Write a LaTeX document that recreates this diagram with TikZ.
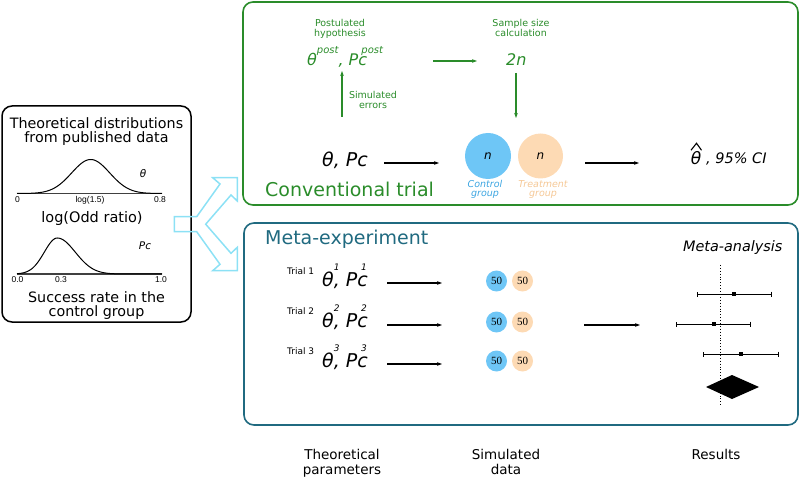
\documentclass[tikz,border=0pt]{standalone}
\usepackage{fontspec}
\setmainfont{DejaVu Sans}
\newfontfamily\serifnum{Liberation Serif}
\newfontfamily\ticksf{Liberation Sans}
\usetikzlibrary{arrows.meta}
\definecolor{grn}{RGB}{42,140,42}
\definecolor{tealc}{RGB}{32,106,128}
\definecolor{ctrlfill}{RGB}{110,198,246}
\definecolor{trtfill}{RGB}{253,218,180}
\definecolor{ctrltext}{RGB}{60,165,225}
\definecolor{trttext}{RGB}{245,200,150}
\definecolor{cyanarr}{RGB}{140,225,245}
\newcommand\setfs[1]{\fontsize{#1}{#1}\selectfont}
% raised superscript: #1 raise, #2 size, #3 text
\newcommand\rsup[3]{\raisebox{#1}{\setfs{#2}#3}}
\begin{document}
\begin{tikzpicture}[x=1pt,y=-1pt,
  lbl/.style={inner sep=0pt, anchor=base},
  lblw/.style={inner sep=0pt, anchor=base west},
  arr/.style={-{Stealth[length=5pt,width=3.6pt]}, line width=1.1pt},
  garr/.style={arr, draw=grn},
  panel/.style={rectangle, rounded corners=10pt, line width=1.6pt, inner sep=0pt},
  bigc/.style={circle, inner sep=0pt, minimum size=45pt, font=\itshape\setfs{12}},
  smc/.style={circle, inner sep=0pt, minimum size=21pt, font=\serifnum\setfs{11}},
  tick/.style={lbl, font=\ticksf\setfs{8.5}},
  ci/.style={line width=0.9pt, {Bar[width=5pt]}-{Bar[width=5pt]}}
]
\useasboundingbox (0,0) rectangle (800,478);

% ---------- panels ----------
\node[panel, draw=black, line width=1.5pt, minimum width=189pt, minimum height=216pt] (src) at (96.5,214) {};
\node[panel, draw=grn, minimum width=555pt, minimum height=203pt] (conv) at (520.5,103.5) {};
\node[panel, draw=tealc, minimum width=554pt, minimum height=202pt] (meta) at (521,324) {};

% ---------- left panel ----------
\node[lbl, font=\setfs{14.3}] (srcT1) at (96.5,129) {Theoretical distributions};
\node[lbl, font=\setfs{14.3}] (srcT2) at (96.5,143) {from published data};

\draw[black!75, line width=1.5pt] (17,193.5) -- (162,193.5);
\draw[line width=1pt] plot[domain=17:162, samples=120, smooth] (\x, {193.5-34*exp(-((\x-90.7)^2)/722)});
\node[lbl, font=\itshape\setfs{10.5}] (thlab) at (143,178) {θ};
\node[tick] (tkA0) at (17.5,203) {0};
\node[tick] (tkA1) at (90,203) {log(1.5)};
\node[tick] (tkA2) at (160,203) {0.8};
\node[lbl, font=\setfs{14.5}] (lor) at (92,223) {log(Odd ratio)};

\draw[black!75, line width=1.5pt] (17,274) -- (162,274);
\draw[line width=1pt] plot[domain=17:162, samples=120, smooth] (\x, {274-36*exp(-((\x-57.3)^2)/(2*(13+5*(\x>57.3))^2))});
\node[lbl, font=\itshape\setfs{10.5}] (pclab) at (145,250) {Pc};
\node[tick] (tkB0) at (17.5,283) {0.0};
\node[tick] (tkB1) at (61,283) {0.3};
\node[tick] (tkB2) at (161,283) {1.0};
\node[lbl, font=\setfs{14.3}] (srcB1) at (96.5,302.5) {Success rate in the};
\node[lbl, font=\setfs{14.3}] (srcB2) at (96.5,316) {control group};

% ---------- split arrow ----------
\draw[cyanarr, line width=1.5pt, line join=miter]
  (174.3,216.7) -- (196.7,216.7) -- (220,184) -- (212.7,177.7) -- (237.3,177.7)
  -- (237.3,201) -- (231,195) -- (205.7,224.2) -- (231,253.3) -- (237.3,247.3)
  -- (237.3,270.7) -- (212.7,270.7) -- (220,264.3) -- (196.7,231.7) -- (174.3,231.7) -- cycle;

% ---------- conventional trial ----------
\node[lbl, text=grn, font=\setfs{9.5}] (postA) at (340,26.5) {Postulated};
\node[lbl, text=grn, font=\setfs{9.5}] (postB) at (340,36.5) {hypothesis};
\node[lbl, text=grn, font=\setfs{9.5}] (sampA) at (521,26.5) {Sample size};
\node[lbl, text=grn, font=\setfs{9.5}] (sampB) at (521,36.5) {calculation};
\node[lblw, text=grn, font=\itshape\setfs{16}] (thpost) at (307,65.5)
  {θ\rsup{11.5pt}{10}{post}, P\rlap{c}\kern0.19em\rsup{11.5pt}{10}{post}};
\node[lblw, text=grn, font=\itshape\setfs{16}] (twon) at (506,65.5) {2n};
\coordinate (ga1) at (433,61); \coordinate (ga2) at (477,61);
\draw[garr] (ga1) -- (ga2);
\coordinate (gb1) at (516,73); \coordinate (gb2) at (516,118);
\draw[garr] (gb1) -- (gb2);
\coordinate (gc1) at (342,117); \coordinate (gc2) at (342,71);
\draw[garr] (gc1) -- (gc2);
\node[lbl, text=grn, font=\setfs{9.5}] (simA) at (373,99) {Simulated};
\node[lbl, text=grn, font=\setfs{9.5}] (simB) at (373,108.5) {errors};

\node[lblw, font=\itshape\setfs{19}] (thpc) at (322,166.5) {θ, Pc};
\coordinate (ba1) at (384,163); \coordinate (ba2) at (439,163);
\draw[arr] (ba1) -- (ba2);
\node[bigc, fill=ctrlfill, minimum size=46pt] (ctrlA) at (488,156) {n};
\node[bigc, fill=trtfill] (trtA) at (540.5,156) {n};
\node[lbl, text=ctrltext, font=\itshape\setfs{9.5}] (ctlA) at (485,187.5) {Control};
\node[lbl, text=ctrltext, font=\itshape\setfs{9.5}] (ctlB) at (485,197) {group};
\node[lbl, text=trttext, font=\itshape\setfs{9.5}] (trA) at (543,187.5) {Treatment};
\node[lbl, text=trttext, font=\itshape\setfs{9.5}] (trB) at (543,197) {group};
\node[lblw, text=grn, font=\setfs{19}] (convT) at (265,196.5) {Conventional trial};
\coordinate (bb1) at (585,163); \coordinate (bb2) at (639,163);
\draw[arr] (bb1) -- (bb2);
\node[lbl, font=\itshape\setfs{17}] (thhat) at (696,165) {θ};
\draw[line width=1.1pt] ([shift={(-5,-1.5)}]thhat.north) -- ([shift={(0.5,-8.5)}]thhat.north) -- ([shift={(5.5,-1.5)}]thhat.north);
\node[lblw, font=\itshape\setfs{14.5}] (ci95) at (706,163.5) {, 95\% CI};

% ---------- meta-experiment ----------
\node[lblw, text=tealc, font=\setfs{19}] (metaT) at (265,245) {Meta-experiment};

\node[lblw, font=\setfs{9}] (tr1) at (287,274) {Trial 1};
\node[lblw, font=\itshape\setfs{19}] (th1) at (322,287) {θ\rlap{\rsup{16pt}{9}{1}}, P\rlap{c}\kern0.2em\rlap{\rsup{16pt}{9}{1}}\kern0.35em};
\coordinate (ra1) at (387,283); \coordinate (rb1) at (442,283);
\draw[arr] (ra1) -- (rb1);
\node[smc, fill=ctrlfill] (c1) at (496.5,281) {50};
\node[smc, fill=trtfill] (t1) at (522.5,281) {50};

\node[lblw, font=\setfs{9}] (tr2) at (287,314) {Trial 2};
\node[lblw, font=\itshape\setfs{19}] (th2) at (322,327.5) {θ\rlap{\rsup{16pt}{9}{2}}, P\rlap{c}\kern0.2em\rlap{\rsup{16pt}{9}{2}}\kern0.35em};
\coordinate (ra2) at (387,325); \coordinate (rb2) at (442,325);
\draw[arr] (ra2) -- (rb2);
\node[smc, fill=ctrlfill] (c2) at (496.5,322) {50};
\node[smc, fill=trtfill] (t2) at (522.5,322) {50};

\node[lblw, font=\setfs{9}] (tr3) at (287,354) {Trial 3};
\node[lblw, font=\itshape\setfs{19}] (th3) at (322,367.5) {θ\rlap{\rsup{16pt}{9}{3}}, P\rlap{c}\kern0.2em\rlap{\rsup{16pt}{9}{3}}\kern0.35em};
\coordinate (ra3) at (387,364); \coordinate (rb3) at (442,364);
\draw[arr] (ra3) -- (rb3);
\node[smc, fill=ctrlfill] (c3) at (496.5,361) {50};
\node[smc, fill=trtfill] (t3) at (522.5,361) {50};

\coordinate (ma1) at (584,325); \coordinate (ma2) at (640,325);
\draw[arr] (ma1) -- (ma2);

\node[lblw, font=\itshape\setfs{14.4}] (metaA) at (683,251.5) {Meta-analysis};
\coordinate (dotT) at (720,265); \coordinate (dotB) at (720,405);
\draw[dotted, line width=0.9pt] (dotT) -- (dotB);
\draw[ci] (697,294) -- (772,294);
\fill (732.2,292.2) rectangle (735.8,295.8);
\draw[ci] (676,324) -- (751,324);
\fill (712.2,322.2) rectangle (715.8,325.8);
\draw[ci] (703,354) -- (779,354);
\fill (739.2,352.2) rectangle (742.8,355.8);
\fill (706,387) -- (732,375) -- (759,387) -- (732,399) -- cycle;

% ---------- column labels ----------
\node[lbl, font=\setfs{13.5}] (colA1) at (342,459) {Theoretical};
\node[lbl, font=\setfs{13.5}] (colA2) at (342,474.5) {parameters};
\node[lbl, font=\setfs{13.5}] (colB1) at (506,459) {Simulated};
\node[lbl, font=\setfs{13.5}] (colB2) at (506,474.5) {data};
\node[lbl, font=\setfs{13.5}] (colC) at (716,459) {Results};
\end{tikzpicture}
\end{document}
